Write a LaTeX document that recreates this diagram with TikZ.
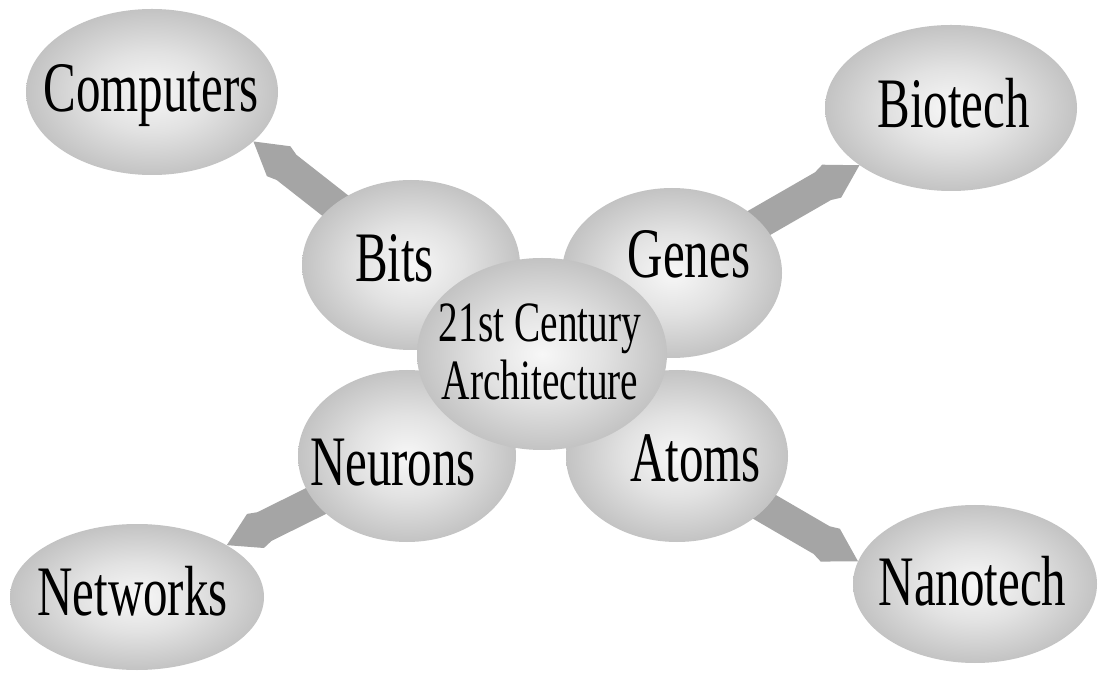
\documentclass[tikz,border=0pt]{standalone}
\usepackage{fontspec}
\usetikzlibrary{shapes.geometric,calc,backgrounds}
\newfontfamily\bubblefont[FakeStretch=0.69]{Liberation Serif}
\definecolor{bubblecore}{RGB}{247,247,247}
\definecolor{bubblemid}{RGB}{226,226,226}
\definecolor{bubbleedge}{RGB}{195,195,195}
\definecolor{linkgray}{RGB}{165,165,165}
\pgfdeclareradialshading{bubble}{\pgfpoint{0bp}{0bp}}{color(0bp)=(bubblecore); color(12bp)=(bubblemid); color(25bp)=(bubbleedge); color(50bp)=(bubbleedge)}
\tikzset{
	bubble/.style={ellipse, shade, shading=bubble, inner sep=0pt},
	word/.style={font=\bubblefont\fontsize{71}{73}\selectfont, anchor=base, inner sep=0pt},
	hubword/.style={font=\bubblefont\fontsize{57}{58}\selectfont, align=center, inner sep=0pt},
	link/.style={fill=linkgray, to path={(\tikztotarget)
		-- ($(\tikztotarget)!32pt!(\tikztostart)!19pt!90:(\tikztostart)$)
		-- ($(\tikztotarget)!42pt!(\tikztostart)!16pt!90:(\tikztostart)$)
		-- ($(\tikztostart)!16pt!-90:(\tikztotarget)$)
		-- ($(\tikztostart)!16pt!90:(\tikztotarget)$)
		-- ($(\tikztotarget)!42pt!(\tikztostart)!16pt!-90:(\tikztostart)$)
		-- ($(\tikztotarget)!32pt!(\tikztostart)!19pt!-90:(\tikztostart)$)
		-- cycle}}
}
\begin{document}
\begin{tikzpicture}[x=1pt,y=1pt]
	\useasboundingbox (0,0) rectangle (1100,675);
	\node [bubble, minimum width=252pt, minimum height=166pt] (computers) at (152,583) {};
	\node [bubble, minimum width=252pt, minimum height=166pt] (biotech) at (951,567) {};
	\node [bubble, minimum width=254pt, minimum height=146pt] (networks) at (137,78) {};
	\node [bubble, minimum width=244pt, minimum height=158pt] (nanotech) at (975,91) {};
	\node [bubble, minimum width=218pt, minimum height=170pt] (bits) at (411,410) {};
	\node [bubble, minimum width=220pt, minimum height=170pt] (genes) at (672,402) {};
	\node [bubble, minimum width=218pt, minimum height=172pt] (neurons) at (407,219) {};
	\node [bubble, minimum width=222pt, minimum height=172pt] (atoms) at (677,219) {};
	\node [bubble, minimum width=250pt, minimum height=192pt] (hub) at (542,321) {};
	\node [word] (computers text) at (151,563) {Computers};
	\node [word] (biotech text) at (953.5,547) {Biotech};
	\node [word] (networks text) at (132.5,60) {Networks};
	\node [word] (nanotech text) at (972.5,70) {Nanotech};
	\node [word] (bits text) at (394.5,393) {Bits};
	\node [word] (genes text) at (689,397) {Genes};
	\node [word] (neurons text) at (393,189) {Neurons};
	\node [word] (atoms text) at (695.5,193) {Atoms};
	\node [hubword] (hub text) at (540,323) {21st Century\\Architecture};
	\begin{scope}[on background layer]
		\fill [white] (0,0) rectangle (1100,675);
		\path [link] (bits.center) to (computers.-26);
		\path [link] (genes.center) to (biotech.-148);
		\path [link] (neurons.center) to (networks.30);
		\path [link] (atoms.center) to (nanotech.169);
	\end{scope}
\end{tikzpicture}
\end{document}
